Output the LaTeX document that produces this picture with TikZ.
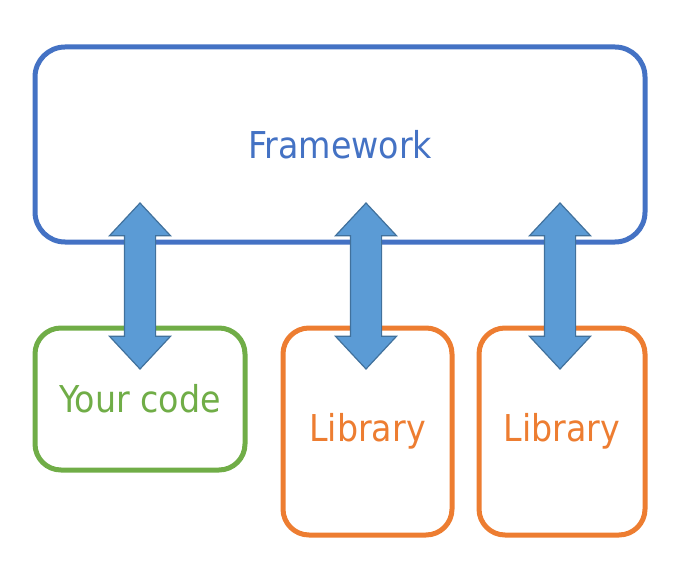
\documentclass[tikz,border=0pt]{standalone}
\usepackage{fontspec}
\setmainfont{DejaVu Sans Condensed}
\usetikzlibrary{shapes.arrows}
\definecolor{fwblue}{HTML}{4472C4}
\definecolor{codegreen}{HTML}{70AD47}
\definecolor{liborange}{HTML}{ED7D31}
\definecolor{arrowfill}{HTML}{5B9BD5}
\definecolor{arrowline}{HTML}{41719C}
\begin{document}
\begin{tikzpicture}[x=0.5pt, y=-0.5pt,
  box/.style={draw, line width=2.5pt, rounded corners=13pt, inner sep=0pt,
    font=\fontsize{18.5}{21}\selectfont},
  duplex/.style={shape=double arrow, rotate=90, fill=arrowfill, draw=arrowline,
    line width=0.6pt, inner sep=7.5pt, minimum width=0pt, minimum height=83pt,
    double arrow head extend=7.5pt, double arrow tip angle=86}]

% Cadre
\useasboundingbox (0,0) rectangle (688,582);

% Boites
\node[box, draw=fwblue, text=fwblue, minimum width=305pt, minimum height=97.5pt,
  rounded corners=15pt] (fw) at (340,144.5) {Framework};
\node[box, draw=codegreen, text=codegreen, minimum width=105pt, minimum height=71pt]
  (code) at (140,399) {Your code};
\node[box, draw=liborange, text=liborange, minimum width=84.5pt, minimum height=103.5pt]
  (libA) at (367.5,431.5) {Library};
\node[box, draw=liborange, text=liborange, minimum width=83pt, minimum height=103.5pt]
  (libB) at (562,431.5) {Library};

% Fleches doubles
\node[duplex] (arrA) at (code.north |- 0,286) {};
\node[duplex] (arrB) at (366,286) {};
\node[duplex] (arrC) at (560,286) {};
\end{tikzpicture}
\end{document}
